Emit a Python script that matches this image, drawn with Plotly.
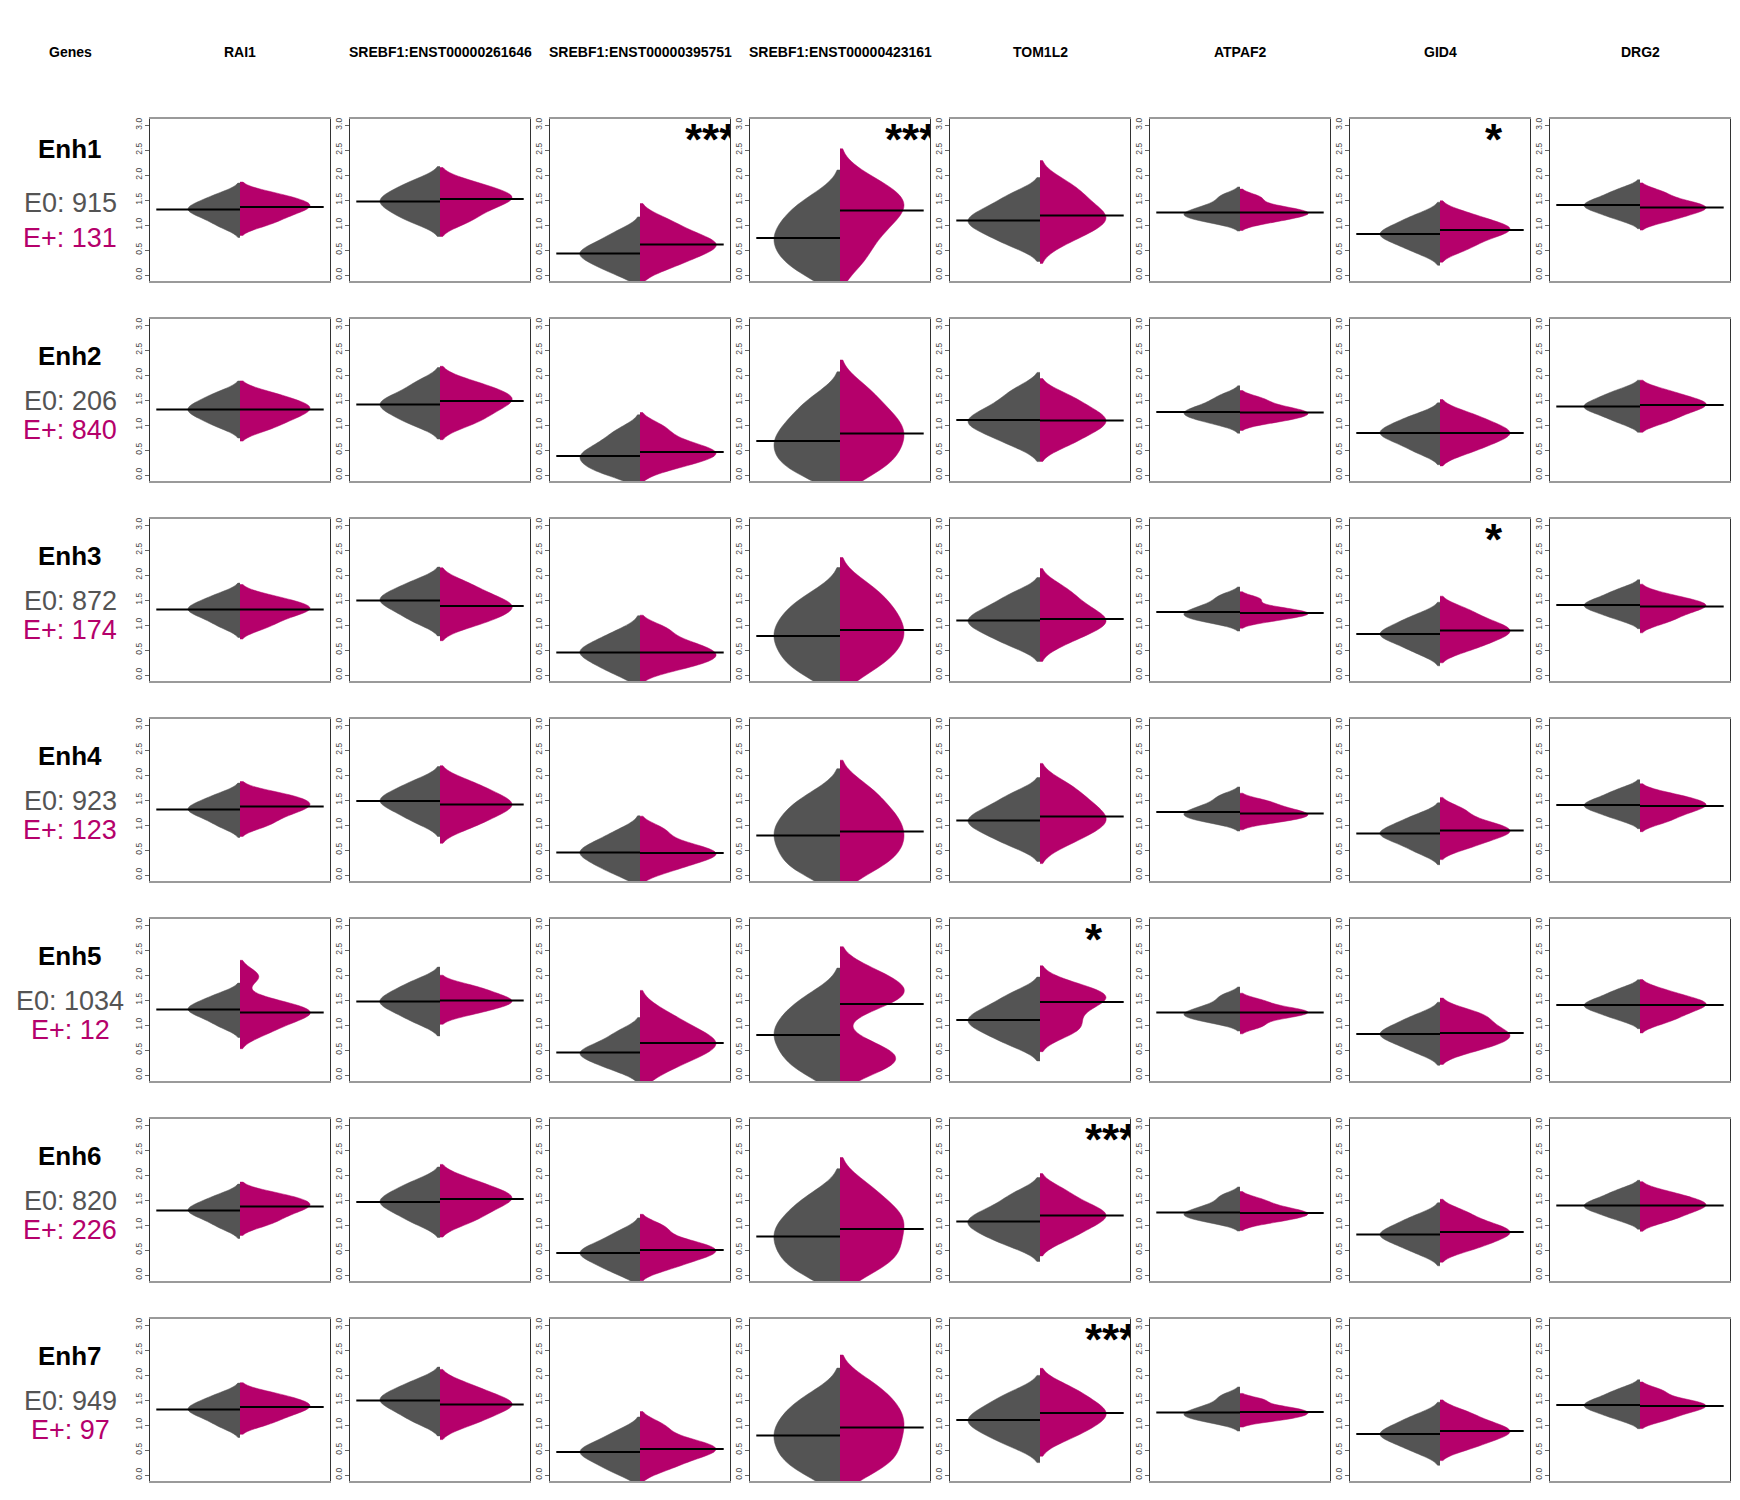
import numpy as np
import plotly.graph_objects as go

GENES = ["RAI1", "SREBF1:ENST00000261646", "SREBF1:ENST00000395751",
         "SREBF1:ENST00000423161", "TOM1L2", "ATPAF2", "GID4", "DRG2"]
ENHANCERS = ["Enh1", "Enh2", "Enh3", "Enh4", "Enh5", "Enh6", "Enh7"]
E0_COUNTS = [915, 206, 872, 923, 1034, 820, 949]
EP_COUNTS = [131, 840, 174, 123, 12, 226, 97]
STARS = [
    ["", "", "***", "***", "", "", "*", ""],
    ["", "", "", "", "", "", "", ""],
    ["", "", "", "", "", "", "*", ""],
    ["", "", "", "", "", "", "", ""],
    ["", "", "", "", "*", "", "", ""],
    ["", "", "", "", "***", "", "", ""],
    ["", "", "", "", "***", "", "", ""],
]
Y_TICKS = [0.0, 0.5, 1.0, 1.5, 2.0, 2.5, 3.0]

# Per gene, per enhancer row (Enh1..Enh7): 7 equal-probability expression values
# (approximate 7/21/36/50/64/79/93 % quantiles; middle one = median)
RAI1_E0 = [
    [0.98, 1.14, 1.24, 1.31, 1.38, 1.47, 1.61],
    [0.98, 1.13, 1.23, 1.31, 1.39, 1.49, 1.64],
    [0.98, 1.14, 1.24, 1.31, 1.38, 1.47, 1.61],
    [0.98, 1.14, 1.24, 1.31, 1.38, 1.47, 1.61],
    [0.98, 1.14, 1.24, 1.31, 1.38, 1.47, 1.61],
    [0.96, 1.12, 1.22, 1.29, 1.36, 1.45, 1.59],
    [0.98, 1.14, 1.24, 1.31, 1.38, 1.47, 1.61],
]
RAI1_EP = [
    [1.02, 1.17, 1.28, 1.36, 1.43, 1.51, 1.63],
    [0.93, 1.10, 1.21, 1.31, 1.39, 1.48, 1.63],
    [0.96, 1.12, 1.24, 1.31, 1.37, 1.45, 1.57],
    [1.00, 1.17, 1.29, 1.37, 1.45, 1.53, 1.64],
    [0.85, 1.05, 1.19, 1.25, 1.33, 1.46, 1.97],
    [1.02, 1.17, 1.29, 1.37, 1.44, 1.52, 1.63],
    [1.03, 1.18, 1.28, 1.36, 1.43, 1.51, 1.63],
]
SREBF1_261646_E0 = [
    [1.07, 1.24, 1.37, 1.47, 1.57, 1.69, 1.87],
    [1.02, 1.19, 1.32, 1.41, 1.51, 1.63, 1.85],
    [1.07, 1.26, 1.39, 1.49, 1.58, 1.69, 1.87],
    [1.07, 1.26, 1.39, 1.48, 1.57, 1.69, 1.87],
    [1.07, 1.26, 1.38, 1.47, 1.57, 1.69, 1.87],
    [1.05, 1.24, 1.37, 1.46, 1.56, 1.68, 1.86],
    [1.07, 1.26, 1.39, 1.49, 1.58, 1.69, 1.87],
]
SREBF1_261646_EP = [
    [1.07, 1.27, 1.42, 1.52, 1.59, 1.69, 1.85],
    [1.03, 1.21, 1.37, 1.48, 1.57, 1.68, 1.85],
    [1.01, 1.16, 1.29, 1.38, 1.47, 1.61, 1.82],
    [0.97, 1.17, 1.31, 1.41, 1.51, 1.65, 1.85],
    [1.23, 1.35, 1.43, 1.49, 1.56, 1.66, 1.78],
    [1.07, 1.26, 1.41, 1.52, 1.60, 1.71, 1.90],
    [1.02, 1.19, 1.33, 1.41, 1.49, 1.61, 1.80],
]
SREBF1_395751_E0 = [
    [0.05, 0.22, 0.35, 0.43, 0.52, 0.65, 0.85],
    [0.03, 0.15, 0.30, 0.38, 0.50, 0.65, 0.88],
    [0.05, 0.22, 0.37, 0.45, 0.53, 0.66, 0.85],
    [0.05, 0.22, 0.36, 0.45, 0.53, 0.66, 0.86],
    [0.12, 0.27, 0.38, 0.45, 0.53, 0.66, 0.86],
    [0.06, 0.23, 0.36, 0.44, 0.52, 0.64, 0.84],
    [0.06, 0.24, 0.37, 0.46, 0.54, 0.66, 0.86],
]
SREBF1_395751_EP = [
    [0.18, 0.38, 0.52, 0.61, 0.70, 0.85, 1.08],
    [0.15, 0.30, 0.40, 0.46, 0.55, 0.70, 0.95],
    [0.12, 0.27, 0.35, 0.45, 0.55, 0.68, 0.92],
    [0.10, 0.27, 0.37, 0.44, 0.52, 0.65, 0.90],
    [0.15, 0.40, 0.58, 0.64, 0.72, 0.95, 1.20],
    [0.15, 0.32, 0.42, 0.50, 0.58, 0.70, 0.95],
    [0.14, 0.33, 0.45, 0.52, 0.60, 0.72, 0.98],
]
SREBF1_423161_E0 = [
    [0.05, 0.30, 0.55, 0.74, 0.95, 1.20, 1.50],
    [0.05, 0.25, 0.50, 0.68, 0.90, 1.15, 1.50],
    [0.05, 0.30, 0.58, 0.78, 1.00, 1.25, 1.55],
    [0.07, 0.30, 0.58, 0.79, 1.00, 1.25, 1.55],
    [0.08, 0.32, 0.60, 0.80, 1.00, 1.25, 1.55],
    [0.06, 0.30, 0.56, 0.77, 0.98, 1.22, 1.55],
    [0.08, 0.32, 0.58, 0.79, 1.00, 1.25, 1.55],
]
SREBF1_423161_EP = [
    [0.30, 0.75, 1.05, 1.29, 1.45, 1.62, 1.90],
    [0.10, 0.35, 0.62, 0.83, 1.05, 1.30, 1.70],
    [0.15, 0.45, 0.70, 0.90, 1.15, 1.40, 1.75],
    [0.15, 0.42, 0.65, 0.87, 1.10, 1.35, 1.72],
    [0.15, 0.32, 0.55, 1.42, 1.62, 1.78, 2.05],
    [0.15, 0.40, 0.65, 0.92, 1.15, 1.35, 1.75],
    [0.15, 0.40, 0.70, 0.95, 1.20, 1.45, 1.80],
]
TOM1L2_E0 = [
    [0.62, 0.84, 0.98, 1.09, 1.21, 1.36, 1.60],
    [0.64, 0.87, 1.00, 1.10, 1.23, 1.41, 1.68],
    [0.62, 0.84, 0.98, 1.09, 1.21, 1.36, 1.60],
    [0.62, 0.84, 0.98, 1.09, 1.21, 1.36, 1.60],
    [0.63, 0.85, 0.99, 1.10, 1.22, 1.37, 1.61],
    [0.62, 0.82, 0.96, 1.07, 1.19, 1.34, 1.60],
    [0.62, 0.84, 0.99, 1.10, 1.23, 1.39, 1.62],
]
TOM1L2_EP = [
    [0.70, 0.95, 1.08, 1.19, 1.35, 1.58, 1.82],
    [0.62, 0.84, 0.98, 1.09, 1.21, 1.36, 1.58],
    [0.68, 0.91, 1.03, 1.12, 1.26, 1.46, 1.72],
    [0.66, 0.91, 1.04, 1.17, 1.34, 1.53, 1.80],
    [0.85, 1.00, 1.25, 1.46, 1.55, 1.63, 1.80],
    [0.73, 0.94, 1.09, 1.19, 1.29, 1.43, 1.68],
    [0.76, 0.97, 1.12, 1.24, 1.36, 1.53, 1.75],
]
ATPAF2_E0 = [
    [1.06, 1.14, 1.20, 1.25, 1.32, 1.42, 1.58],
    [1.04, 1.14, 1.21, 1.26, 1.33, 1.43, 1.58],
    [1.06, 1.14, 1.20, 1.26, 1.33, 1.43, 1.58],
    [1.06, 1.14, 1.20, 1.26, 1.33, 1.43, 1.58],
    [1.06, 1.14, 1.20, 1.25, 1.32, 1.42, 1.58],
    [1.06, 1.14, 1.20, 1.25, 1.32, 1.42, 1.58],
    [1.06, 1.14, 1.20, 1.25, 1.32, 1.42, 1.58],
]
ATPAF2_EP = [
    [1.06, 1.15, 1.21, 1.25, 1.30, 1.38, 1.55],
    [1.06, 1.14, 1.20, 1.25, 1.30, 1.38, 1.52],
    [1.08, 1.16, 1.21, 1.24, 1.29, 1.36, 1.52],
    [1.06, 1.13, 1.19, 1.23, 1.29, 1.37, 1.48],
    [0.98, 1.13, 1.20, 1.25, 1.29, 1.35, 1.48],
    [1.06, 1.14, 1.20, 1.24, 1.29, 1.37, 1.50],
    [1.09, 1.16, 1.21, 1.26, 1.31, 1.37, 1.50],
]
GID4_E0 = [
    [0.47, 0.64, 0.75, 0.82, 0.90, 1.02, 1.18],
    [0.47, 0.65, 0.76, 0.84, 0.92, 1.03, 1.18],
    [0.46, 0.64, 0.75, 0.82, 0.90, 1.02, 1.18],
    [0.47, 0.65, 0.76, 0.83, 0.91, 1.02, 1.18],
    [0.47, 0.64, 0.75, 0.82, 0.90, 1.02, 1.18],
    [0.46, 0.63, 0.74, 0.81, 0.89, 1.01, 1.17],
    [0.47, 0.64, 0.75, 0.82, 0.90, 1.02, 1.18],
]
GID4_EP = [
    [0.52, 0.70, 0.83, 0.90, 0.97, 1.06, 1.22],
    [0.47, 0.64, 0.76, 0.84, 0.93, 1.05, 1.22],
    [0.52, 0.69, 0.80, 0.89, 0.98, 1.10, 1.30],
    [0.56, 0.72, 0.82, 0.89, 0.97, 1.08, 1.30],
    [0.50, 0.65, 0.75, 0.84, 0.95, 1.12, 1.25],
    [0.52, 0.67, 0.78, 0.86, 0.94, 1.05, 1.25],
    [0.54, 0.70, 0.80, 0.88, 0.96, 1.07, 1.25],
]
DRG2_E0 = [
    [1.13, 1.26, 1.34, 1.40, 1.47, 1.56, 1.70],
    [1.07, 1.22, 1.31, 1.37, 1.45, 1.54, 1.68],
    [1.13, 1.26, 1.34, 1.40, 1.47, 1.56, 1.70],
    [1.13, 1.26, 1.34, 1.40, 1.47, 1.56, 1.70],
    [1.13, 1.26, 1.34, 1.40, 1.47, 1.56, 1.70],
    [1.12, 1.25, 1.33, 1.39, 1.46, 1.55, 1.69],
    [1.13, 1.26, 1.34, 1.40, 1.47, 1.56, 1.70],
]
DRG2_EP = [
    [1.09, 1.21, 1.29, 1.35, 1.41, 1.49, 1.65],
    [1.07, 1.22, 1.32, 1.40, 1.46, 1.54, 1.68],
    [1.06, 1.19, 1.30, 1.37, 1.42, 1.48, 1.60],
    [1.07, 1.21, 1.31, 1.38, 1.44, 1.51, 1.62],
    [1.07, 1.21, 1.32, 1.40, 1.46, 1.53, 1.68],
    [1.09, 1.22, 1.32, 1.39, 1.45, 1.53, 1.65],
    [1.11, 1.24, 1.32, 1.38, 1.44, 1.51, 1.68],
]

E0_ALL = [RAI1_E0, SREBF1_261646_E0, SREBF1_395751_E0, SREBF1_423161_E0,
          TOM1L2_E0, ATPAF2_E0, GID4_E0, DRG2_E0]
EP_ALL = [RAI1_EP, SREBF1_261646_EP, SREBF1_395751_EP, SREBF1_423161_EP,
          TOM1L2_EP, ATPAF2_EP, GID4_EP, DRG2_EP]

# ---------------- styling / layout ----------------
W, H = 1740, 1500
COL_LEFT, COL_PITCH, PANEL_W = 150, 200, 180
ROW_TOP, ROW_PITCH, PANEL_H = 119, 200, 162
GRAY = "#545454"
MAG = "#B5006B"
FONT = "Liberation Sans, Arial, Helvetica, sans-serif"
XR = 1.0          # half range of each panel's x axis
PX_PER_UNIT = (PANEL_W / 2) / XR
LINE_EXT = 0.93   # median line extent (fraction of half range)
BW_FACTOR = 1.2
# drawn half-widths (pixels) of the widest point of each violin half, per gene column
E0_HALF_PX = [52, 60, 60, 66, 72, 56, 60, 56]
EP_HALF_PX = [70, 72, 76, 64, 66, 68, 70, 66]

fig = go.Figure()
layout = dict(
    width=W, height=H, margin=dict(l=0, r=0, t=0, b=0),
    paper_bgcolor="white", plot_bgcolor="white", showlegend=False,
    violinmode="overlay", violingap=0, violingroupgap=0,
    font=dict(family=FONT),
)


def bandwidth(vals):
    gaps = np.diff(np.sort(np.asarray(vals, dtype=float)))
    return max(0.04, BW_FACTOR * float(np.median(gaps)))


annotations = []
for r in range(len(ENHANCERS)):
    for c in range(len(GENES)):
        k = r * len(GENES) + c + 1
        xa = "x" if k == 1 else f"x{k}"
        ya = "y" if k == 1 else f"y{k}"
        left = COL_LEFT + c * COL_PITCH
        top = ROW_TOP + r * ROW_PITCH
        xdom = [left / W, (left + PANEL_W) / W]
        ydom = [1 - (top + PANEL_H) / H, 1 - top / H]
        g = E0_ALL[c][r]
        m = EP_ALL[c][r]
        for vals, side, col, hpx in ((g, "negative", GRAY, E0_HALF_PX[c]),
                                     (m, "positive", MAG, EP_HALF_PX[c])):
            fig.add_trace(go.Violin(
                x=[0] * len(vals), y=vals, side=side, xaxis=xa, yaxis=ya,
                fillcolor=col, line=dict(color=col, width=0.5), opacity=1,
                points=False, box_visible=False, meanline_visible=False,
                bandwidth=bandwidth(vals), width=2 * hpx / PX_PER_UNIT,
                hoverinfo="skip", showlegend=False,
            ))
        mg = g[len(g) // 2]
        mm = m[len(m) // 2]
        fig.add_trace(go.Scatter(x=[-LINE_EXT * XR, 0], y=[mg, mg], mode="lines",
                                 line=dict(color="black", width=2), xaxis=xa, yaxis=ya,
                                 hoverinfo="skip", showlegend=False))
        fig.add_trace(go.Scatter(x=[0, LINE_EXT * XR], y=[mm, mm], mode="lines",
                                 line=dict(color="black", width=2), xaxis=xa, yaxis=ya,
                                 hoverinfo="skip", showlegend=False))
        if STARS[r][c]:
            fig.add_trace(go.Scatter(x=[0.5 * XR], y=[2.62], mode="text", text=[STARS[r][c]],
                                     textposition="middle right",
                                     textfont=dict(family=FONT, size=44, color="black", weight="bold"),
                                     xaxis=xa, yaxis=ya, hoverinfo="skip", showlegend=False))
        axkey = "xaxis" if k == 1 else f"xaxis{k}"
        aykey = "yaxis" if k == 1 else f"yaxis{k}"
        layout[axkey] = dict(domain=xdom, range=[-XR, XR], anchor=ya, showticklabels=False,
                             ticks="", showgrid=False, zeroline=False, showline=True,
                             linecolor="#9a9a9a", linewidth=2, mirror=True, fixedrange=True)
        layout[aykey] = dict(domain=ydom, range=[-0.12, 3.12], anchor=xa,
                             tickvals=Y_TICKS, ticktext=[f"{v:.1f}" for v in Y_TICKS],
                             tickangle=-90, tickfont=dict(size=8.5, color="#444444", family=FONT),
                             ticks="outside", ticklen=4, tickcolor="#666666", tickwidth=1,
                             showgrid=False, zeroline=False, showline=True,
                             linecolor="#333333", linewidth=1, mirror=True, fixedrange=True)

# header
annotations.append(dict(text="Genes", x=70 / W, y=1 - 52 / H, xref="paper", yref="paper",
                        showarrow=False, xanchor="center", yanchor="middle",
                        font=dict(size=14, color="black", family=FONT, weight="bold")))
for c, gname in enumerate(GENES):
    cx = COL_LEFT + c * COL_PITCH + PANEL_W / 2
    annotations.append(dict(text=gname, x=cx / W, y=1 - 52 / H, xref="paper", yref="paper",
                            showarrow=False, xanchor="center", yanchor="middle",
                            font=dict(size=14, color="black", family=FONT, weight="bold")))

# row labels
for r, enh in enumerate(ENHANCERS):
    top = ROW_TOP + r * ROW_PITCH
    offs = (30, 84, 119) if r == 0 else (37, 82, 111)
    annotations.append(dict(text=enh, x=70 / W, y=1 - (top + offs[0]) / H, xref="paper",
                            yref="paper", showarrow=False, xanchor="center", yanchor="middle",
                            font=dict(size=26, color="black", family=FONT, weight="bold")))
    annotations.append(dict(text=f"E0: {E0_COUNTS[r]}", x=70 / W, y=1 - (top + offs[1]) / H,
                            xref="paper", yref="paper", showarrow=False, xanchor="center",
                            yanchor="middle", font=dict(size=27, color=GRAY, family=FONT)))
    annotations.append(dict(text=f"E+: {EP_COUNTS[r]}", x=70 / W, y=1 - (top + offs[2]) / H,
                            xref="paper", yref="paper", showarrow=False, xanchor="center",
                            yanchor="middle", font=dict(size=27, color=MAG, family=FONT)))

layout["annotations"] = annotations
fig.update_layout(**layout)
fig.write_html("out.html")
